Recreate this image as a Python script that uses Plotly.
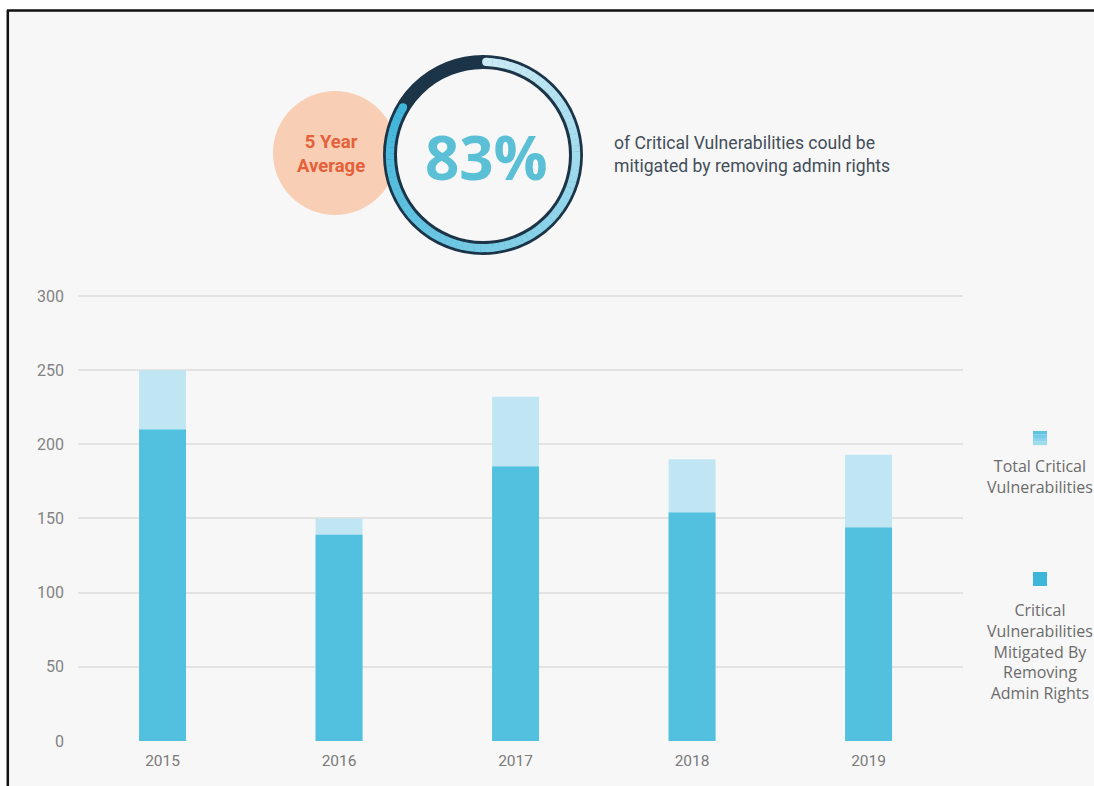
import numpy as np
import plotly.graph_objects as go

# ---- data ----
years = ["2015", "2016", "2017", "2018", "2019"]
total_critical = [250, 150, 232, 190, 193]
mitigated = [210, 139, 185, 154, 144]
y_ticks = [0, 50, 100, 150, 200, 250, 300]
five_year_avg_pct = 83

W, H = 1094, 786


def px(x):
    return x / W


def py(y):
    return 1 - y / H


BG = "#f7f7f7"
LIGHT = "#bfe6f2"
MID = "#51c1df"
NAVY = "#1c3447"

fig = go.Figure()
fig.add_trace(go.Bar(x=years, y=total_critical, width=0.266, marker=dict(color=LIGHT, line=dict(width=0)),
                     opacity=1, name="Total Critical Vulnerabilities"))
fig.add_trace(go.Bar(x=years, y=mitigated, width=0.266, marker=dict(color=MID, line=dict(width=0)),
                     opacity=1, name="Critical Vulnerabilities Mitigated By Removing Admin Rights"))

shapes = []
# white strips outside the panel, then the dark frame on its top and left edges
shapes.append(dict(type="rect", xref="paper", yref="paper", x0=0, x1=1, y0=py(10), y1=1,
                   fillcolor="white", line=dict(width=0), layer="below"))
shapes.append(dict(type="rect", xref="paper", yref="paper", x0=0, x1=px(7), y0=0, y1=1,
                   fillcolor="white", line=dict(width=0), layer="below"))
shapes.append(dict(type="line", xref="paper", yref="paper", x0=px(7), x1=1, y0=py(10.5), y1=py(10.5),
                   line=dict(color="#111111", width=2.5)))
shapes.append(dict(type="line", xref="paper", yref="paper", x0=px(7.8), x1=px(7.8), y0=0, y1=py(10),
                   line=dict(color="#111111", width=2.5)))

# peach badge
shapes.append(dict(type="circle", xref="paper", yref="paper", x0=px(273), x1=px(397), y0=py(215), y1=py(91),
                   fillcolor="#f8ceb4", line=dict(width=0)))

# progress ring
cx, cy = 483, 155
r_mid = 93
shapes.append(dict(type="circle", xref="paper", yref="paper",
                   x0=px(cx - r_mid), x1=px(cx + r_mid), y0=py(cy + r_mid), y1=py(cy - r_mid),
                   line=dict(color=NAVY, width=14), fillcolor="rgba(0,0,0,0)"))

r_out, r_in = 97.2, 89
start = np.deg2rad(2.0)
sweep = 2 * np.pi * five_year_avg_pct / 100
n_seg = 80
c0 = np.array([0xcb, 0xeb, 0xf5])
c1 = np.array([0x3f, 0xb5, 0xda])


def pt(theta, r):
    return px(cx + r * np.sin(theta)), py(cy - r * np.cos(theta))


for i in range(n_seg):
    a0 = start + sweep * i / n_seg
    a1 = start + sweep * (i + 1) / n_seg + (0.004 if i < n_seg - 1 else 0)
    t = (i + 0.5) / n_seg
    col = c0 + (c1 - c0) * t
    color = "rgb(%d,%d,%d)" % tuple(col.round().astype(int))
    p = [pt(a0, r_out), pt(a1, r_out), pt(a1, r_in), pt(a0, r_in)]
    path = "M %f,%f L %f,%f L %f,%f L %f,%f Z" % (p[0] + p[1] + p[2] + p[3])
    shapes.append(dict(type="path", xref="paper", yref="paper", path=path, fillcolor=color,
                       line=dict(width=0)))

# rounded ends of the arc
rc = (r_out - r_in) / 2
for ang, col in [(start, c0), (start + sweep, c1)]:
    ex = cx + (r_in + rc) * np.sin(ang)
    ey = cy - (r_in + rc) * np.cos(ang)
    shapes.append(dict(type="circle", xref="paper", yref="paper",
                       x0=px(ex - rc), x1=px(ex + rc), y0=py(ey + rc), y1=py(ey - rc),
                       fillcolor="rgb(%d,%d,%d)" % tuple(col), line=dict(width=0)))

# legend swatches: the first fades from mid blue to light blue
sw_cols = ["#5ec4e2", "#74cce7", "#8ad4ea", "#9fdbee"]
for k, fill in enumerate(sw_cols):
    y_top = 431 + k * 3.5
    shapes.append(dict(type="rect", xref="paper", yref="paper", x0=px(1033), x1=px(1047),
                       y0=py(y_top + 3.6), y1=py(y_top), fillcolor=fill, line=dict(width=0)))
shapes.append(dict(type="rect", xref="paper", yref="paper", x0=px(1033), x1=px(1047),
                   y0=py(586), y1=py(572), fillcolor="#3db6da", line=dict(width=0)))

annotations = [
    dict(text="<b>5 Year<br>Average</b>", x=px(331), y=py(154), xanchor="center", yanchor="middle",
         font=dict(family="Roboto", size=18.5, color="#e5613b")),
    dict(text="%d%%" % five_year_avg_pct, x=px(486), y=py(157), xanchor="center", yanchor="middle",
         font=dict(family="Open Sans", size=60, color="#5bbfd6", weight=700)),
    dict(text="of Critical Vulnerabilities could be<br>mitigated by removing admin rights",
         x=px(612), y=py(154), xanchor="left", yanchor="middle", align="left",
         font=dict(family="Roboto", size=17.6, color="#434e59")),
    dict(text="Total Critical<br>Vulnerabilities", x=px(1040), y=py(477), xanchor="center", yanchor="middle",
         font=dict(family="Open Sans", size=16, color="#6b6b6b")),
    dict(text="Critical<br>Vulnerabilities<br>Mitigated By<br>Removing<br>Admin Rights",
         x=px(1040), y=py(651), xanchor="center", yanchor="middle",
         font=dict(family="Open Sans", size=16, color="#6b6b6b")),
]
for a in annotations:
    a.update(xref="paper", yref="paper", showarrow=False)

fig.update_layout(
    width=W, height=H,
    margin=dict(l=0, r=0, t=0, b=0),
    paper_bgcolor=BG,
    plot_bgcolor="rgba(0,0,0,0)",
    barmode="overlay",
    showlegend=False,
    shapes=shapes,
    annotations=annotations,
    xaxis=dict(domain=[px(78), px(963)], type="category", range=[-0.479, 4.535],
               showgrid=False, zeroline=False, showline=False, ticks="", automargin=False,
               ticklabelstandoff=8, tickfont=dict(family="Roboto", size=15.5, color="#7a7a7a")),
    yaxis=dict(domain=[py(741), py(741 - 310 * 445 / 300)], range=[0, 310], tickvals=y_ticks,
               showgrid=True, gridcolor="#e3e3e3", gridwidth=1.5, zeroline=False, showline=False,
               ticks="", automargin=False, ticklabelstandoff=13,
               tickfont=dict(family="Roboto", size=16, color="#838383")),
)

fig.write_html("out.html")
